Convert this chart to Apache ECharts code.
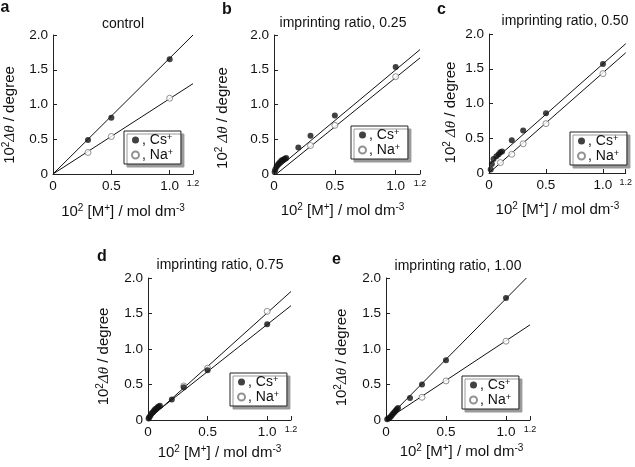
<!DOCTYPE html>
<html>
<head>
<meta charset="utf-8">
<script src="https://cdn.jsdelivr.net/npm/echarts@6/dist/echarts.min.js"></script>
<style>html,body{margin:0;padding:0;background:#fff}#c{width:635px;height:467px}</style>
</head>
<body>
<div id="c"></div>
<script>
// ---------- data ----------
const panelLetters = ['a', 'b', 'c', 'd', 'e'];
const panelTitles = ['control', 'imprinting ratio, 0.25', 'imprinting ratio, 0.50', 'imprinting ratio, 0.75', 'imprinting ratio, 1.00'];
const xTicks = [0, 0.5, 1.0, 1.2];
const yTicks = [0, 0.5, 1.0, 1.5, 2.0];

// a: control
const aCsX = [0.3, 0.5, 1.0];
const aCsY = [0.49, 0.81, 1.65];
const aNaX = [0.3, 0.5, 1.0];
const aNaY = [0.31, 0.54, 1.09];
const aCsFitX = [0, 1.2];
const aCsFitY = [0, 2.0];
const aNaFitX = [0, 1.2];
const aNaFitY = [0, 1.30];

// b: 0.25
const bCsX = [0.005, 0.01, 0.02, 0.03, 0.04, 0.05, 0.06, 0.07, 0.08, 0.09, 0.1, 0.2, 0.3, 0.5, 1.0];
const bCsY = [0.03, 0.06, 0.10, 0.13, 0.15, 0.17, 0.19, 0.20, 0.21, 0.22, 0.23, 0.38, 0.55, 0.84, 1.54];
const bNaX = [0.3, 0.5, 1.0];
const bNaY = [0.41, 0.70, 1.40];
const bCsFitX = [0, 1.2];
const bCsFitY = [0.04, 1.79];
const bNaFitX = [0.02, 1.2];
const bNaFitY = [0, 1.67];

// c: 0.50
const cCsX = [0.015, 0.025, 0.04, 0.065, 0.085, 0.1, 0.115, 0.2, 0.3, 0.5, 1.0];
const cCsY = [0.05, 0.13, 0.20, 0.24, 0.27, 0.30, 0.31, 0.47, 0.61, 0.86, 1.57];
const cNaX = [0.1, 0.2, 0.3, 0.5, 1.0];
const cNaY = [0.15, 0.27, 0.42, 0.71, 1.43];
const cCsFitX = [0, 1.2];
const cCsFitY = [0.12, 1.86];
const cNaFitX = [0, 1.2];
const cNaFitY = [0, 1.73];

// d: 0.75
const dCsX = [0.005, 0.01, 0.02, 0.03, 0.04, 0.05, 0.06, 0.07, 0.08, 0.09, 0.1, 0.2, 0.3, 0.5, 1.0];
const dCsY = [0.02, 0.04, 0.06, 0.09, 0.11, 0.13, 0.15, 0.16, 0.18, 0.19, 0.20, 0.29, 0.46, 0.70, 1.35];
const dNaX = [0.3, 0.5, 1.0];
const dNaY = [0.48, 0.73, 1.53];
const dCsFitX = [0, 1.2];
const dCsFitY = [0.02, 1.61];
const dNaFitX = [0, 1.2];
const dNaFitY = [0, 1.81];

// e: 1.00
const eCsX = [0.01, 0.02, 0.03, 0.04, 0.05, 0.06, 0.07, 0.08, 0.09, 0.1, 0.2, 0.3, 0.5, 1.0];
const eCsY = [0.01, 0.02, 0.03, 0.05, 0.07, 0.09, 0.11, 0.13, 0.15, 0.17, 0.31, 0.50, 0.84, 1.72];
const eNaX = [0.3, 0.5, 1.0];
const eNaY = [0.32, 0.55, 1.11];
const eCsFitX = [0, 1.17];
const eCsFitY = [0, 2.0];
const eNaFitX = [0, 1.2];
const eNaFitY = [0, 1.34];

const csX = [aCsX, bCsX, cCsX, dCsX, eCsX], csY = [aCsY, bCsY, cCsY, dCsY, eCsY];
const naX = [aNaX, bNaX, cNaX, dNaX, eNaX], naY = [aNaY, bNaY, cNaY, dNaY, eNaY];
const csFitX = [aCsFitX, bCsFitX, cCsFitX, dCsFitX, eCsFitX], csFitY = [aCsFitY, bCsFitY, cCsFitY, dCsFitY, eCsFitY];
const naFitX = [aNaFitX, bNaFitX, cNaFitX, dNaFitX, eNaFitX], naFitY = [aNaFitY, bNaFitY, cNaFitY, dNaFitY, eNaFitY];

// ---------- layout ----------
const FONT = '"Liberation Sans", Arial, Helvetica, sans-serif';
const grids = [
  {left: 52, top: 35, width: 141, height: 139},
  {left: 274, top: 35, width: 146, height: 139},
  {left: 489, top: 34, width: 140, height: 139},
  {left: 148, top: 278, width: 143, height: 142},
  {left: 386, top: 278, width: 144, height: 142}
];
const yNames = ['10{sup|2}{it|Δθ} / degree', '10{sup|2} {it|Δθ} / degree', '10{sup|2} {it|Δθ} / degree', '10{sup|2}{it|Δθ} / degree', '10{sup|2}{it|Δθ} / degree'];
const yNameGap = [34, 42, 29, 35, 35];
const yNameShift = [21, 27, 18, 15, 17];
const xNameGap = [29, 28, 28, 24, 23];
const xNamePad = [[0,0,0,0],[0,9,0,0],[0,0,0,0],[0,0,0,0],[0,0,0,7]];
const legendPos = [
  {left: 124, top: 131}, {left: 351, top: 126}, {left: 570, top: 132}, {left: 230, top: 373}, {left: 462, top: 376}
];
const letterPos = [[0.5, 7.5], [222, 9.5], [437, 9.5], [97, 256.5], [332, 259.5]];
const titlePos = [[123, 24.5], [343, 23.4], [565, 21.5], [220, 265], [458, 265.8]];

const zip = (xs, ys) => xs.map((x, i) => [x, ys[i]]);
const richSup = {
  sup: {fontSize: 10, lineHeight: 10, verticalAlign: 'top', fontFamily: FONT, color: '#111'},
  it: {fontStyle: 'italic', fontFamily: '"Liberation Serif", "DejaVu Serif", serif', fontSize: 15, color: '#111'}
};

const xAxis = [], yAxis = [], series = [], legend = [], graphic = [];
grids.forEach((g, i) => {
  xAxis.push({
    gridIndex: i, type: 'value', min: 0, max: 1.2, interval: 0.5,
    name: '10{sup|2} [M{sup|+}] / mol dm{sup|-3}', nameLocation: 'middle', nameGap: xNameGap[i],
    nameTextStyle: {fontSize: 15, fontFamily: FONT, color: '#111', lineHeight: 18, padding: xNamePad[i], rich: richSup},
    axisLine: {lineStyle: {color: '#222', width: 1}},
    axisTick: {inside: true, length: 4, lineStyle: {color: '#222'}},
    splitLine: {show: false},
    axisLabel: {
      margin: 5, fontSize: 13.5, fontFamily: FONT, color: '#111', showMaxLabel: true, showMinLabel: true,
      formatter: v => v === 0 ? '0' : (Math.abs(v - 1.2) < 1e-9 ? '{s|1.2}' : v.toFixed(1)),
      rich: {s: {fontSize: 9, fontFamily: FONT, color: '#111'}}
    }
  });
  yAxis.push({
    gridIndex: i, type: 'value', min: 0, max: 2.0, interval: 0.5,
    name: yNames[i], nameLocation: 'middle', nameGap: yNameGap[i], nameRotate: 90,
    nameTextStyle: {fontSize: 15, fontFamily: FONT, color: '#111', lineHeight: 18, padding: [0, yNameShift[i], 0, 0], rich: richSup},
    axisLine: {lineStyle: {color: '#222', width: 1}},
    axisTick: {inside: true, length: 4, lineStyle: {color: '#222'}},
    splitLine: {show: false},
    axisLabel: {margin: 5, fontSize: 13.5, fontFamily: FONT, color: '#111',
      formatter: v => v === 0 ? '0' : v.toFixed(1)}
  });
  series.push({
    type: 'line', name: 'fitCs', xAxisIndex: i, yAxisIndex: i, data: zip(csFitX[i], csFitY[i]),
    showSymbol: false, symbol: 'none', lineStyle: {color: '#111', width: 1}, silent: true, z: 2, animation: false
  });
  series.push({
    type: 'line', name: 'fitNa', xAxisIndex: i, yAxisIndex: i, data: zip(naFitX[i], naFitY[i]),
    showSymbol: false, symbol: 'none', lineStyle: {color: '#111', width: 1}, silent: true, z: 2, animation: false
  });
  series.push({
    type: 'scatter', name: 'Na', xAxisIndex: i, yAxisIndex: i, data: zip(naX[i], naY[i]),
    symbol: 'circle', symbolSize: 6, itemStyle: {color: '#fff', borderColor: '#777', borderWidth: 1}, z: 3, animation: false
  });
  series.push({
    type: 'scatter', name: 'Cs', xAxisIndex: i, yAxisIndex: i, data: zip(csX[i], csY[i]),
    symbol: 'circle', symbolSize: 6, itemStyle: {color: '#111'}, z: 4, animation: false
  });
  legend.push({
    left: legendPos[i].left, top: legendPos[i].top, orient: 'vertical',
    data: ['Cs', 'Na'], icon: 'circle', itemWidth: 7, itemHeight: 7, itemGap: 1,
    selectedMode: false,
    padding: [2, 8, 2, 7],
    backgroundColor: '#fff', borderColor: '#222', borderWidth: 1,
    shadowColor: '#999', shadowBlur: 0, shadowOffsetX: 3, shadowOffsetY: 3,
    formatter: n => ', ' + n + '{sup|+}',
    textStyle: {fontSize: 14, fontFamily: FONT, color: '#111', lineHeight: 13, padding: [0, 0, 0, -2],
      rich: {sup: {fontSize: 9, lineHeight: 9, verticalAlign: 'top', fontFamily: FONT, color: '#111'}}}
  });
  graphic.push({
    type: 'text', silent: true,
    style: {text: panelLetters[i], x: letterPos[i][0], y: letterPos[i][1], fontSize: 16, fontWeight: 'bold',
      fontFamily: FONT, fill: '#111', textAlign: 'left', textVerticalAlign: 'middle'}
  });
  graphic.push({
    type: 'text', silent: true,
    style: {text: panelTitles[i], x: titlePos[i][0], y: titlePos[i][1], fontSize: 14,
      fontFamily: FONT, fill: '#111', textAlign: 'center', textVerticalAlign: 'middle'}
  });
});

const chart = echarts.init(document.getElementById('c'), null, {renderer: 'canvas'});
chart.setOption({
  animation: false,
  backgroundColor: '#fff',
  grid: grids.map(g => Object.assign({containLabel: false}, g)),
  xAxis, yAxis, series, legend, graphic
});
</script>
</body>
</html>
